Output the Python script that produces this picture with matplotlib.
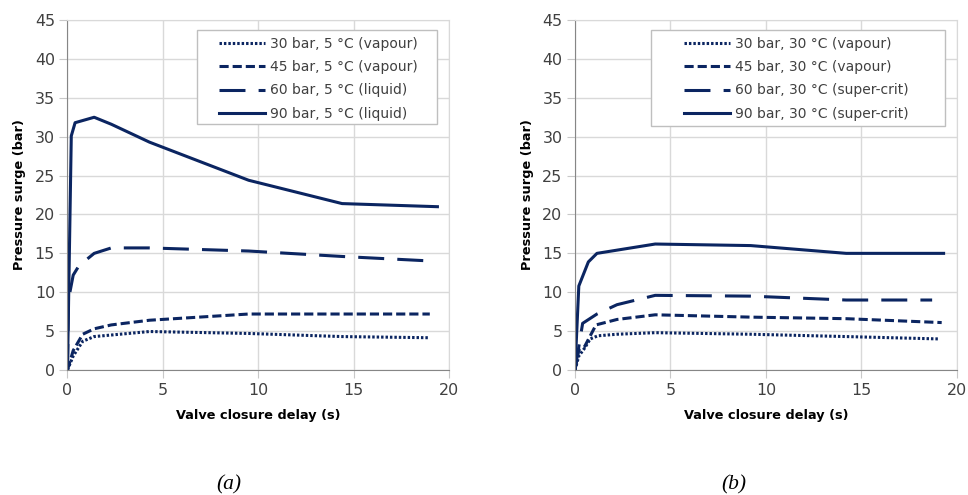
import matplotlib
matplotlib.use("Agg")
import matplotlib.pyplot as plt
from matplotlib.patches import Rectangle

# (a) 5 degC cases
x_a90 = [0, 0.2, 0.4, 1.4, 2.3, 4.3, 9.5, 14.4, 19.4]
a_90 = [0, 30.1, 31.8, 32.5, 31.6, 29.3, 24.4, 21.4, 21.0]
x_a60 = [0, 0.05, 0.3, 0.6, 1.4, 2.3, 4.3, 9.5, 14.4, 19.2]
a_60 = [0, 9.0, 12.2, 13.4, 15.0, 15.7, 15.7, 15.3, 14.6, 14.0]
x_a45 = [0, 0.3, 0.8, 1.4, 2.3, 4.3, 9.5, 14.4, 19.0]
a_45 = [0, 2.5, 4.6, 5.3, 5.8, 6.4, 7.2, 7.2, 7.2]
x_a30 = [0, 0.3, 0.8, 1.4, 2.3, 4.3, 9.5, 14.4, 19.0]
a_30 = [0, 1.8, 3.7, 4.3, 4.5, 4.95, 4.7, 4.3, 4.15]

# (b) 30 degC cases
x_b90 = [0, 0.2, 0.7, 1.15, 4.2, 9.2, 14.2, 19.3]
b_90 = [0, 10.8, 13.9, 15.0, 16.2, 16.0, 15.0, 15.0]
x_b60 = [0, 0.2, 0.4, 1.15, 2.2, 4.2, 9.2, 14.2, 18.7]
b_60 = [0, 3.0, 6.0, 7.2, 8.4, 9.6, 9.5, 9.0, 9.0]
x_b45 = [0, 0.2, 0.5, 1.1, 2.2, 4.2, 9.2, 14.2, 19.2]
b_45 = [0, 2.6, 3.0, 5.8, 6.5, 7.1, 6.8, 6.6, 6.1]
x_b30 = [0, 0.2, 0.5, 0.8, 1.2, 2.2, 4.2, 9.2, 14.2, 19.0]
b_30 = [0, 1.8, 2.8, 4.0, 4.4, 4.6, 4.8, 4.6, 4.3, 4.0]

labels_a = ["30 bar, 5 °C (vapour)", "45 bar, 5 °C (vapour)",
            "60 bar, 5 °C (liquid)", "90 bar, 5 °C (liquid)"]
labels_b = ["30 bar, 30 °C (vapour)", "45 bar, 30 °C (vapour)",
            "60 bar, 30 °C (super-crit)", "90 bar, 30 °C (super-crit)"]

navy = "#0b2561"
grey = "#868686"
light = "#d9d9d9"
txt = "#404040"

styles = [(0, (0.8, 0.65)), (0, (3.0, 1.3)), (0, (8.5, 4.3)), '-']

fig = plt.figure(figsize=(9.68, 4.95), dpi=100)
ax1 = fig.add_axes([0.0697, 0.2525, 0.394, 0.707])
ax2 = fig.add_axes([0.594, 0.2525, 0.3946, 0.707])


def draw(ax, series, labels, box, leg_x):
    for (xx, yy), ls, lab in zip(series, styles, labels):
        ax.plot(xx, yy, color=navy, linestyle=ls, linewidth=2.2, label=lab)
    ax.set_xlim(0, 20)
    ax.set_ylim(0, 45)
    ax.set_xticks(range(0, 21, 5))
    ax.set_yticks(range(0, 46, 5))
    ax.grid(True, color=light, linewidth=1.0)
    ax.set_axisbelow(True)
    for s in ['top', 'right']:
        ax.spines[s].set_color(light)
    for s in ['left', 'bottom']:
        ax.spines[s].set_color(grey)
    ax.tick_params(direction='out', length=6, color='#c8c8c8', labelcolor=txt,
                   labelsize=11.4, pad=3)
    ax.set_xlabel("Valve closure delay (s)", fontsize=9.3, fontweight='bold',
                  color='black', labelpad=8)
    ax.set_ylabel("Pressure surge (bar)", fontsize=9.3, fontweight='bold',
                  color='black', labelpad=6)
    # legend frame
    ax.add_patch(Rectangle((box[0], box[1]), box[2] - box[0], box[3] - box[1],
                           transform=ax.transAxes, facecolor='white',
                           edgecolor='#bfbfbf', linewidth=1.0, zorder=4))
    leg = ax.legend(loc='upper left', bbox_to_anchor=(leg_x, 0.952),
                    fontsize=10, handlelength=3.3, handletextpad=0.36,
                    labelspacing=0.67, borderpad=0, borderaxespad=0,
                    frameon=False)
    leg.set_zorder(5)
    plt.setp(leg.get_texts(), color=txt)


draw(ax1, [(x_a30, a_30), (x_a45, a_45), (x_a60, a_60), (x_a90, a_90)],
     labels_a, (0.339, 0.703, 0.969, 0.971), 0.397)
draw(ax2, [(x_b30, b_30), (x_b45, b_45), (x_b60, b_60), (x_b90, b_90)],
     labels_b, (0.199, 0.697, 0.969, 0.971), 0.285)

fig.text(0.2366, 0.012, "(a)", fontsize=15.5, style='italic',
         family='Liberation Serif', ha='center')
fig.text(0.758, 0.012, "(b)", fontsize=15.5, style='italic',
         family='Liberation Serif', ha='center')

fig.savefig("out.png", dpi=100)
